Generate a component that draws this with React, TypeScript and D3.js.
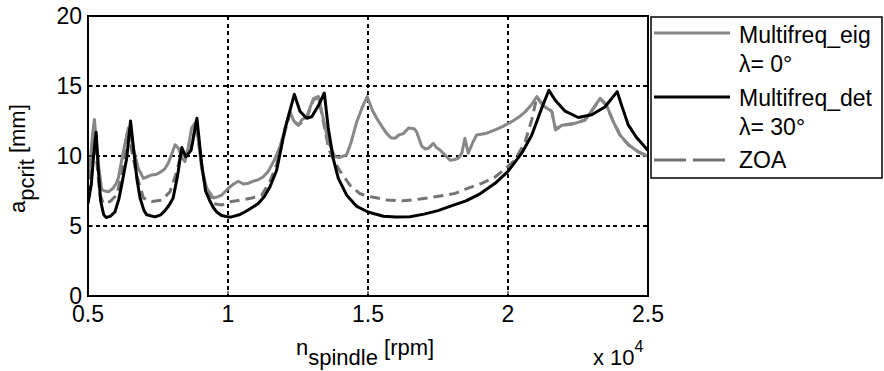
import React from "react";
import * as d3 from "d3";

// x in units of 1e4 rpm, y = a_pcrit in mm
const eigSeries: [number, number][] = [
  [0.5, 8.6], [0.508, 9.5], [0.516, 11.5], [0.523, 12.6], [0.53, 11.0], [0.537, 9.4], [0.549, 7.6], [0.56, 7.5],
  [0.573, 7.45], [0.59, 7.7], [0.6, 8.0], [0.608, 8.4], [0.626, 10.3], [0.644, 12.0], [0.652, 11.5], [0.662, 10.5],
  [0.68, 9.1], [0.698, 8.4], [0.71, 8.5], [0.727, 8.65], [0.745, 8.7], [0.763, 8.9], [0.775, 9.1], [0.787, 9.5],
  [0.8, 10.2], [0.811, 10.8], [0.823, 10.55], [0.835, 9.9], [0.846, 9.6], [0.858, 10.6], [0.87, 12.0], [0.886, 12.45],
  [0.895, 11.0], [0.906, 9.1], [0.924, 7.7], [0.948, 7.0], [0.965, 7.1], [0.977, 7.2], [1.001, 7.7], [1.02, 8.0],
  [1.037, 8.2], [1.055, 8.0], [1.073, 8.05], [1.09, 8.2], [1.108, 8.3], [1.125, 8.5], [1.144, 8.9], [1.168, 9.8],
  [1.186, 10.7], [1.205, 12.0], [1.221, 13.2], [1.235, 12.5], [1.251, 12.2], [1.265, 12.6], [1.281, 12.8], [1.305, 14.1],
  [1.323, 14.25], [1.34, 12.7], [1.358, 11.0], [1.382, 9.95], [1.4, 9.9], [1.424, 10.1], [1.44, 11.0], [1.46, 12.45],
  [1.48, 13.5], [1.497, 14.25], [1.515, 13.3], [1.531, 12.7], [1.55, 12.1], [1.567, 11.6], [1.582, 11.3], [1.596, 11.26],
  [1.61, 11.5], [1.626, 11.6], [1.645, 12.0], [1.665, 11.95], [1.674, 11.7], [1.692, 10.7], [1.705, 10.5], [1.716, 10.55],
  [1.733, 10.9], [1.745, 10.6], [1.757, 10.43], [1.775, 10.07], [1.793, 9.7], [1.81, 9.75], [1.823, 9.85], [1.835, 10.2],
  [1.846, 11.26], [1.858, 10.2], [1.875, 11.0], [1.888, 11.5], [1.92, 11.6], [1.954, 11.86], [1.98, 12.1], [2.013, 12.45],
  [2.04, 12.8], [2.061, 13.15], [2.085, 13.7], [2.103, 14.25], [2.118, 13.8], [2.132, 13.5], [2.156, 13.2], [2.17, 11.86],
  [2.192, 12.2], [2.22, 12.25], [2.239, 12.33], [2.275, 12.57], [2.305, 13.4], [2.329, 14.12], [2.352, 13.64], [2.376, 12.45],
  [2.4, 11.5], [2.43, 10.8], [2.465, 10.3], [2.5, 9.95],
];

const detSeries: [number, number][] = [
  [0.5, 6.6], [0.512, 8.0], [0.522, 10.5], [0.529, 11.7], [0.537, 9.0], [0.545, 6.8], [0.556, 5.8], [0.565, 5.6],
  [0.58, 5.7], [0.596, 6.0], [0.61, 6.9], [0.62, 7.9], [0.638, 9.8], [0.652, 12.5], [0.665, 10.1], [0.675, 8.3],
  [0.686, 7.0], [0.7, 6.1], [0.71, 5.8], [0.739, 5.65], [0.76, 5.8], [0.775, 6.1], [0.79, 6.5], [0.804, 7.0],
  [0.82, 8.6], [0.835, 10.6], [0.849, 9.95], [0.868, 10.4], [0.889, 12.7], [0.906, 9.4], [0.92, 7.5], [0.935, 6.8],
  [0.948, 6.3], [0.96, 6.0], [0.977, 5.75], [1.0, 5.65], [1.013, 5.65], [1.04, 5.8], [1.06, 6.0], [1.085, 6.3],
  [1.108, 6.6], [1.13, 7.1], [1.15, 7.8], [1.174, 9.0], [1.204, 11.98], [1.237, 14.4], [1.257, 13.2], [1.281, 12.7],
  [1.299, 12.8], [1.323, 13.6], [1.344, 14.5], [1.358, 12.0], [1.376, 9.8], [1.394, 8.4], [1.424, 7.2], [1.46, 6.4],
  [1.5, 6.0], [1.555, 5.7], [1.6, 5.65], [1.65, 5.66], [1.7, 5.85], [1.75, 6.1], [1.8, 6.45], [1.85, 6.8],
  [1.9, 7.3], [1.954, 8.05], [2.0, 8.9], [2.049, 10.2], [2.085, 11.5], [2.12, 13.4], [2.146, 14.7], [2.168, 14.0],
  [2.204, 13.2], [2.251, 12.75], [2.299, 12.95], [2.346, 13.5], [2.39, 14.6], [2.406, 13.6], [2.43, 12.2], [2.46, 11.3],
  [2.5, 10.4],
];

const zoaSeries: [number, number][] = [
  [0.5, 7.2], [0.51, 9.0], [0.516, 11.0], [0.523, 12.4], [0.532, 9.5], [0.542, 7.3], [0.555, 6.6], [0.579, 6.75],
  [0.602, 7.2], [0.62, 8.6], [0.635, 11.0], [0.644, 12.0], [0.655, 10.5], [0.674, 8.6], [0.698, 7.0], [0.727, 6.75],
  [0.763, 6.85], [0.793, 7.45], [0.817, 8.9], [0.835, 10.4], [0.849, 9.9], [0.868, 10.5], [0.886, 12.3], [0.9, 10.2],
  [0.918, 7.9], [0.948, 6.6], [0.977, 6.5], [1.013, 6.75], [1.049, 6.86], [1.085, 7.0], [1.12, 7.2], [1.15, 8.2],
  [1.174, 9.4], [1.2, 11.5], [1.221, 13.0], [1.235, 12.5], [1.251, 12.2], [1.281, 12.7], [1.305, 14.0], [1.323, 14.2],
  [1.34, 12.5], [1.36, 10.5], [1.38, 9.6], [1.401, 8.9], [1.436, 7.9], [1.472, 7.3], [1.507, 7.1], [1.567, 6.86],
  [1.626, 6.8], [1.686, 6.93], [1.745, 7.1], [1.811, 7.33], [1.858, 7.7], [1.906, 8.05], [1.954, 8.5], [1.99, 9.1],
  [2.025, 9.7], [2.061, 11.0], [2.085, 12.6], [2.103, 14.2], [2.118, 13.8], [2.132, 13.5], [2.156, 13.2], [2.17, 11.9],
  [2.192, 12.2], [2.239, 12.33], [2.275, 12.57], [2.305, 13.4], [2.329, 14.1], [2.352, 13.6], [2.376, 12.45], [2.4, 11.5],
  [2.43, 10.8], [2.465, 10.3], [2.5, 10.0],
];

const xTicks = [0.5, 1, 1.5, 2, 2.5];
const xTickLabels = ["0.5", "1", "1.5", "2", "2.5"];
const yTicks = [0, 5, 10, 15, 20];
const legendNames = ["Multifreq_eig", "Multifreq_det", "ZOA"];
const legendSubs = ["λ= 0°", "λ= 30°", ""];

const W = 884;
const H = 371;
const L = 88, R = 648, T = 16, B = 296;
const FONT = "'Liberation Sans', Arial, Helvetica, sans-serif";

export default function App() {
  const x = d3.scaleLinear().domain([0.5, 2.5]).range([L, R]);
  const y = d3.scaleLinear().domain([0, 20]).range([B, T]);
  const line = d3
    .line<[number, number]>()
    .x((d) => x(d[0]))
    .y((d) => y(d[1]));

  const gray = "#878787";
  const zoaColor = "#737373";

  return (
    <svg
      width={W}
      height={H}
      style={{ position: "absolute", left: 0, top: 0, background: "#fff" }}
      fontFamily={FONT}
    >
      <defs>
        <clipPath id="plotclip">
          <rect x={L} y={T} width={R - L} height={B - T} />
        </clipPath>
      </defs>
      <rect x={0} y={0} width={W} height={H} fill="#fff" />
      {/* grid */}
      {xTicks.slice(1, -1).map((t) => (
        <line key={"gx" + t} x1={Math.round(x(t))} x2={Math.round(x(t))} y1={T} y2={B} stroke="#000" strokeWidth={2} strokeDasharray="4,3.5" shapeRendering="crispEdges" />
      ))}
      {yTicks.slice(1, -1).map((t) => (
        <line key={"gy" + t} x1={L} x2={R} y1={Math.round(y(t))} y2={Math.round(y(t))} stroke="#000" strokeWidth={2} strokeDasharray="4,3.5" shapeRendering="crispEdges" />
      ))}
      {/* series */}
      <g clipPath="url(#plotclip)" fill="none" strokeLinejoin="round" strokeLinecap="butt">
        <path d={line(zoaSeries) || ""} stroke={zoaColor} strokeWidth={3} strokeDasharray="10,6" />
        <path d={line(eigSeries) || ""} stroke={gray} strokeWidth={3} />
        <path d={line(detSeries) || ""} stroke="#000" strokeWidth={3} />
      </g>
      {/* frame */}
      <rect x={L} y={T} width={R - L} height={B - T} fill="none" stroke="#000" strokeWidth={2} shapeRendering="crispEdges" />
      {/* ticks */}
      {xTicks.map((t, i) => (
        <g key={"xt" + t}>
          <line x1={x(t)} x2={x(t)} y1={B} y2={B - 5} stroke="#000" strokeWidth={1} />
          <text x={x(t)} y={322} fontSize={23} textAnchor="middle" fill="#000">
            {xTickLabels[i]}
          </text>
        </g>
      ))}
      {yTicks.map((t) => (
        <g key={"yt" + t}>
          <line x1={L} x2={L + 5} y1={y(t)} y2={y(t)} stroke="#000" strokeWidth={1} />
          <text x={82} y={y(t) + 7.5} fontSize={23} textAnchor="end" fill="#000">
            {t}
          </text>
        </g>
      ))}
      {/* x label */}
      <text x={296} y={355} fontSize={22} fill="#000">
        n
        <tspan dy={10}>spindle</tspan>
        <tspan dy={-10}> [rpm]</tspan>
      </text>
      <text x={593} y={365} fontSize={22} fill="#000">
        x 10
        <tspan dy={-13} fontSize={16}>4</tspan>
      </text>
      {/* y label */}
      <text transform={`translate(25, 213) rotate(-90)`} fontSize={22} fill="#000">
        a
        <tspan dy={9}>pcrit</tspan>
        <tspan dy={-9}> [mm]</tspan>
      </text>
      {/* legend */}
      <rect x={651} y={17} width={231} height={161} fill="#fff" stroke="#000" strokeWidth={1.5} />
      <line x1={654} x2={730} y1={33} y2={33} stroke={gray} strokeWidth={3} />
      <line x1={654} x2={730} y1={97} y2={97} stroke="#000" strokeWidth={3} />
      <line x1={654} x2={730} y1={160} y2={160} stroke={zoaColor} strokeWidth={3} strokeDasharray="32,7" />
      <text x={739} y={43} fontSize={23} fill="#000">{legendNames[0]}</text>
      <text x={739} y={72} fontSize={23} fill="#000">{legendSubs[0]}</text>
      <text x={739} y={106} fontSize={23} fill="#000">{legendNames[1]}</text>
      <text x={739} y={135} fontSize={23} fill="#000">{legendSubs[1]}</text>
      <text x={739} y={168} fontSize={23} fill="#000">{legendNames[2]}</text>
    </svg>
  );
}
